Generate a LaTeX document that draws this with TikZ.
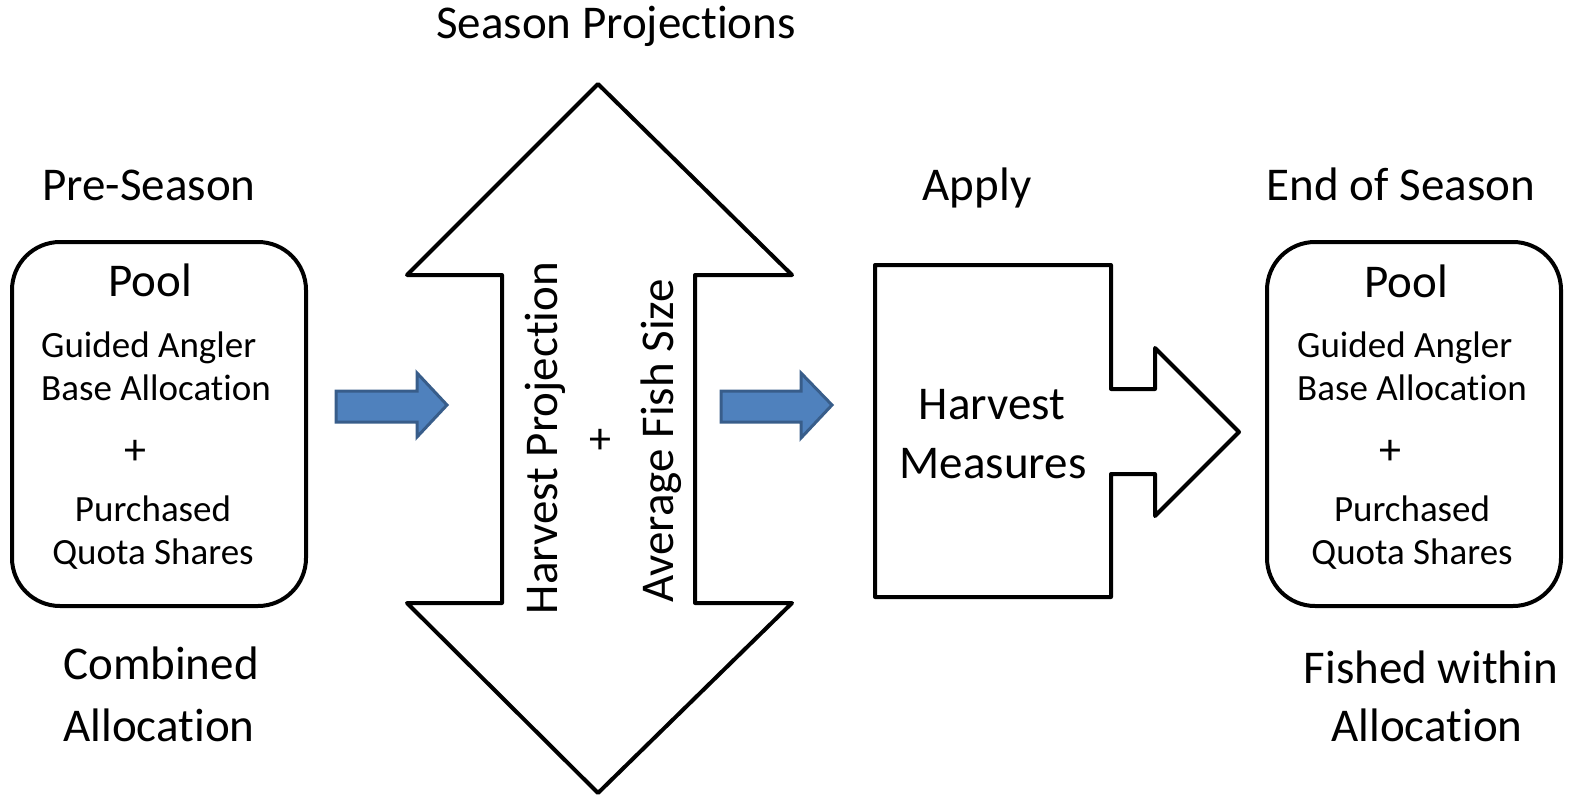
\documentclass[tikz,border=0pt]{standalone}
\usepackage{fontspec}
\setmainfont{Carlito}[RawFeature={-liga;-clig;-dlig}]
\definecolor{arrowfill}{HTML}{4F81BD}
\definecolor{arrowborder}{HTML}{385D8A}
\begin{document}
\begin{tikzpicture}[x=1pt,y=-1pt,
  big/.style={font=\fontsize{47}{56}\selectfont, inner sep=0pt, anchor=base},
  small/.style={font=\fontsize{37}{44}\selectfont, inner sep=0pt, anchor=base},
  plus/.style={font=\fontsize{44}{50}\selectfont, inner sep=0pt, anchor=center},
  outline/.style={draw=black, line width=4pt, line join=round},
  bluearrow/.style={draw=arrowborder, fill=arrowfill, line width=3pt, line join=miter},
  poolbox/.style={outline, rounded corners=48pt, minimum width=294pt, minimum height=364pt, inner sep=0pt}]
\useasboundingbox (0,0) rectangle (1573,797);

% headings
\node[big] (tSeason) at (616,39) {Season Projections};
\node[big] (tPre) at (149,200) {Pre-Season};
\node[big] (tApply) at (977,200) {Apply};
\node[big] (tEnd) at (1401,200) {End of Season};

% left pool box
\node[poolbox] (preBox) at (159,424) {};
\node[big] (preTitle) at (150,296) {Pool};
\node[small, anchor=base west] (preGA) at (41,357) {Guided Angler};
\node[small, anchor=base west] (preBA) at (41,400) {Base Allocation};
\node[plus] (prePlus) at (135,452) {+};
\node[small] (prePQ) at (153,521) {Purchased};
\node[small] (preQS) at (153,564) {Quota Shares};
\node[big] (comb1) at (161,679) {Combined};
\node[big] (comb2) at (159,741) {Allocation};

% right pool box
\node[poolbox] (endBox) at (1414,424) {};
\node[big] (endTitle) at (1406,297) {Pool};
\node[small, anchor=base west] (endGA) at (1297,357) {Guided Angler};
\node[small, anchor=base west] (endBA) at (1297,400) {Base Allocation};
\node[plus] (endPlus) at (1390,452) {+};
\node[small] (endPQ) at (1412,521) {Purchased};
\node[small] (endQS) at (1412,564) {Quota Shares};
\node[big] (fish1) at (1431,683) {Fished within};
\node[big] (fish2) at (1427,741) {Allocation};

% blue block arrows
\draw[bluearrow] (336,391) -- (417,391) -- (417,373) -- (447,405) -- (417,437) -- (417,422) -- (336,422) -- cycle;
\draw[bluearrow] (721,391) -- (801,391) -- (801,373) -- (832,405) -- (801,438) -- (801,422) -- (721,422) -- cycle;

% double arrow
\draw[outline] (598,84) -- (792,275) -- (695,275) -- (695,603) -- (792,603) -- (598,793)
  -- (407,603) -- (502,603) -- (502,275) -- (407,275) -- cycle;
\node[big, rotate=90] (hp) at (557,438) {Harvest Projection};
\node[plus] (midPlus) at (600,441) {+};
\node[big, rotate=90] (afs) at (673,441) {Average Fish Size};

% harvest measures callout
\draw[outline] (875,265) -- (1111,265) -- (1111,389) -- (1155,389) -- (1155,348) -- (1239,432)
  -- (1155,516) -- (1155,474) -- (1111,474) -- (1111,597) -- (875,597) -- cycle;
\node[big] (hm1) at (992,419) {Harvest};
\node[big] (hm2) at (993,478) {Measures};
\end{tikzpicture}
\end{document}
